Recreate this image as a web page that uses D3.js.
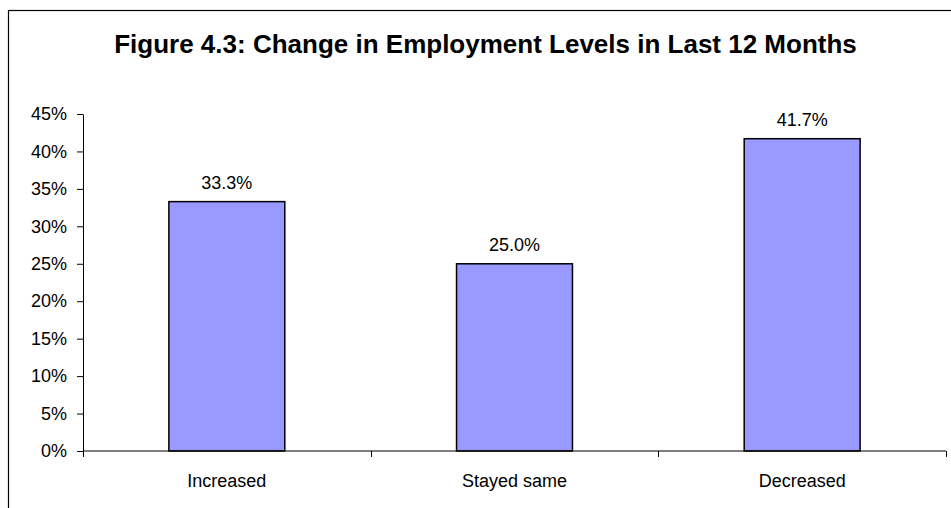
<!DOCTYPE html>
<html>
<head>
<meta charset="utf-8">
<script src="https://cdn.jsdelivr.net/npm/d3@7"></script>
<style>
  html, body { margin: 0; padding: 0; background: #fff; }
  svg { display: block; font-family: "Liberation Sans", Arial, sans-serif; }
</style>
</head>
<body>
<div id="chart"></div>
<script>
const categories = [`Increased`, `Stayed same`, `Decreased`];
const values = [33.3, 25.0, 41.7];
const yTicks = [0, 5, 10, 15, 20, 25, 30, 35, 40, 45];
const title = `Figure 4.3: Change in Employment Levels in Last 12 Months`;

const width = 951;
const height = 508;
const margin = { top: 114, right: 5, bottom: 57, left: 83 };

const svg = d3.select(`#chart`)
  .append(`svg`)
  .attr(`width`, width)
  .attr(`height`, height);

// outer frame (clipped on right & bottom like the source)
svg.append(`rect`)
  .attr(`x`, 8.5)
  .attr(`y`, 10.5)
  .attr(`width`, 960)
  .attr(`height`, 520)
  .attr(`fill`, `none`)
  .attr(`stroke`, `#000`)
  .attr(`stroke-width`, 1.2);

svg.append(`text`)
  .attr(`x`, 485.5)
  .attr(`y`, 53)
  .attr(`text-anchor`, `middle`)
  .style(`font-size`, `26px`)
  .style(`font-weight`, `bold`)
  .attr(`fill`, `#000`)
  .text(title);

const xScale = d3.scaleBand()
  .domain(categories)
  .range([margin.left, width - margin.right])
  .padding(0);

const yScale = d3.scaleLinear()
  .domain([0, 45])
  .range([height - margin.bottom, margin.top]);

const barW = xScale.bandwidth() * 0.403;

// bars
svg.append(`g`)
  .selectAll(`rect`)
  .data(values)
  .join(`rect`)
  .attr(`x`, (d, i) => xScale(categories[i]) + (xScale.bandwidth() - barW) / 2)
  .attr(`y`, (d) => yScale(d))
  .attr(`width`, barW)
  .attr(`height`, (d) => yScale(0) - yScale(d))
  .attr(`fill`, `#9999FF`)
  .attr(`stroke`, `#000`)
  .attr(`stroke-width`, 1.5);

// value labels
svg.append(`g`)
  .selectAll(`text`)
  .data(values)
  .join(`text`)
  .attr(`x`, (d, i) => xScale(categories[i]) + xScale.bandwidth() / 2)
  .attr(`y`, (d) => yScale(d) - 13)
  .attr(`text-anchor`, `middle`)
  .style(`font-size`, `18px`)
  .attr(`fill`, `#000`)
  .text((d) => `${d.toFixed(1)}%`);

// y axis
const yAxis = svg.append(`g`)
  .attr(`transform`, `translate(${margin.left},0)`)
  .call(d3.axisLeft(yScale)
    .tickValues(yTicks)
    .tickFormat((d) => `${d}%`)
    .tickSize(6)
    .tickSizeOuter(0)
    .tickPadding(10));
yAxis.selectAll(`text`)
  .style(`font-size`, `18px`)
  .style(`font-family`, `"Liberation Sans", Arial, sans-serif`)
  .attr(`fill`, `#000`);
yAxis.selectAll(`line, path`).attr(`stroke`, `#000`);

// x axis: line, ticks at band boundaries, labels centred
const xAxis = svg.append(`g`)
  .attr(`transform`, `translate(0,${yScale(0)})`);
xAxis.append(`line`)
  .attr(`x1`, xScale.range()[0])
  .attr(`x2`, xScale.range()[1])
  .attr(`stroke`, `#000`);
const bounds = categories.map((c) => xScale(c)).concat([xScale.range()[1]]);
xAxis.selectAll(`.tick`)
  .data(bounds)
  .join(`line`)
  .attr(`class`, `tick`)
  .attr(`x1`, (d) => Math.round(d) + 0.5)
  .attr(`x2`, (d) => Math.round(d) + 0.5)
  .attr(`y1`, 0)
  .attr(`y2`, 6)
  .attr(`stroke`, `#000`);
xAxis.selectAll(`.cat`)
  .data(categories)
  .join(`text`)
  .attr(`class`, `cat`)
  .attr(`x`, (d) => xScale(d) + xScale.bandwidth() / 2)
  .attr(`y`, 36)
  .attr(`text-anchor`, `middle`)
  .style(`font-size`, `18px`)
  .attr(`fill`, `#000`)
  .text((d) => d);
</script>
</body>
</html>
